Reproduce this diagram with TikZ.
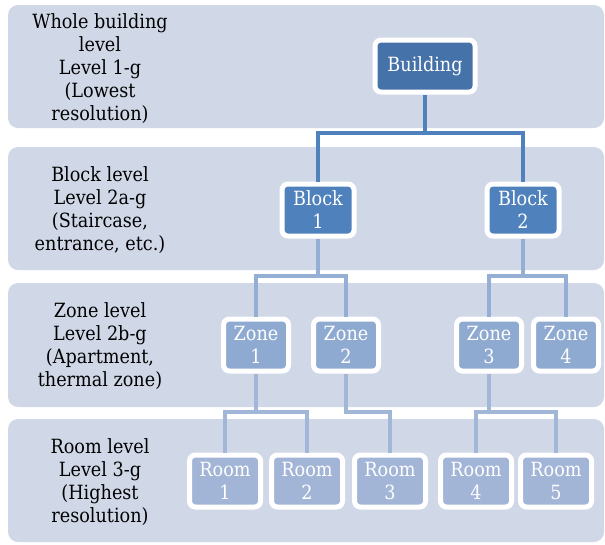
\documentclass[tikz,border=0pt]{standalone}
\usepackage{fontspec}
\setmainfont{DejaVu Serif Condensed}
\usetikzlibrary{positioning}
\usetikzlibrary{calc}
\pgfdeclarelayer{bg}
\pgfsetlayers{bg,main}
\definecolor{bandfill}{HTML}{D0D8E8}
\definecolor{bldfill}{HTML}{4672AA}
\definecolor{blkfill}{HTML}{4F81BD}
\definecolor{znfill}{HTML}{8FAAD1}
\definecolor{rmfill}{HTML}{A2B5D7}
\definecolor{linkB}{HTML}{94AED4}
\definecolor{linkC}{HTML}{A2B6D8}

\begin{document}
\begin{tikzpicture}[
	x=0.75pt,
	y=-0.75pt,
	every node/.style={font=\fontsize{14.7}{17.25}\selectfont},
	band/.style={fill=bandfill, rounded corners=7.5pt, inner sep=0pt, outer sep=0pt, minimum width=447pt, minimum height=92.25pt},
	lbl/.style={align=center, inner sep=0pt},
	box/.style={draw=white, line width=3.75pt, rounded corners=4.5pt, text=white, align=center, inner sep=0pt, minimum height=39pt},
	bld/.style={box, fill=bldfill, minimum width=75pt},
	blk/.style={box, fill=blkfill, minimum width=54pt},
	zn/.style={box, fill=znfill, minimum width=48.75pt},
	rm/.style={box, fill=rmfill, minimum width=53.25pt},
	linkA/.style={draw=blkfill, line width=3.5pt},
	linkb/.style={draw=linkB, line width=3.5pt},
	linkc/.style={draw=linkC, line width=3.5pt},
]
\useasboundingbox (0,0) rectangle (605,544);

% Level bands
\begin{pgfonlayer}{bg}
\node[band] (lv1) at (306,66.5) {};
\node[band] (lv2) at (306,208.5) {};
\node[band, minimum height=93pt] (lv3) at (306,345) {};
\node[band] (lv4) at (306,480.5) {};
\end{pgfonlayer}

% Level descriptions
\node[lbl] (t1) at (100,68.5) {Whole building\\level\\Level 1-g\\(Lowest\\resolution)};
\node[lbl] (t2) at (100,210) {Block level\\Level 2a-g\\(Staircase,\\entrance, etc.)};
\node[lbl] (t3) at (100,346.5) {Zone level\\Level 2b-g\\(Apartment,\\thermal zone)};
\node[lbl] (t4) at (100,482) {Room level\\Level 3-g\\(Highest\\resolution)};

% Tree
\node[bld] (bld) at (425,66) {Building};
\node[blk] (b1) at (318,210) {Block\\1};
\node[blk] (b2) at (523,210) {Block\\2};
\node[zn] (z1) at (256,345) {Zone\\1};
\node[zn] (z2) at (346,345) {Zone\\2};
\node[zn] (z3) at (489,345) {Zone\\3};
\node[zn] (z4) at (566,345) {Zone\\4};
\node[rm] (r1) at (225,481) {Room\\1};
\node[rm] (r2) at (307,481) {Room\\2};
\node[rm] (r3) at (390,481) {Room\\3};
\node[rm] (r4) at (476,481) {Room\\4};
\node[rm] (r5) at (556,481) {Room\\5};

% Junctions
\coordinate (j0) at (425,133);
\coordinate (j1) at (318,276);
\coordinate (j2) at (523,276);
\coordinate (j3) at (256,412);
\coordinate (j4) at (346,412);
\coordinate (j5) at (489,412);

% Connectors
\draw[linkA] (bld.south) -- (j0) -| (b1.north);
\draw[linkA] (j0) -| (b2.north);
\draw[linkb] (b1.south) -- (j1) -| (z1.north);
\draw[linkb] (j1) -| (z2.north);
\draw[linkb] (b2.south) -- (j2) -| (z3.north);
\draw[linkb] (j2) -| (z4.north);
\draw[linkc] (z1.south) -- (j3) -| (r1.north);
\draw[linkc] (j3) -| (r2.north);
\draw[linkc] (z2.south) -- (j4) -| (r3.north);
\draw[linkc] (z3.south) -- (j5) -| (r4.north);
\draw[linkc] (j5) -| (r5.north);
\end{tikzpicture}
\end{document}
